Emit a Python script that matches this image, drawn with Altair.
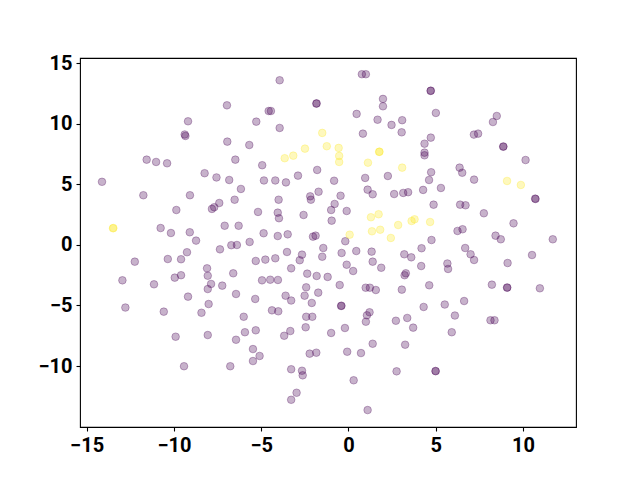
import altair as alt
import pandas as pd

purple_x = [-9.19, -9.38, -9.34, -11.56, -11.02, -10.39, -14.12, -8.24, -3.94, -6.96,
            -4.57, -4.44, -1.84, -1.82, -5.28, -3.94, -6.94, -5.68, -6.48, -4.94,
            -1.79, -2.89, -7.56, -6.83, -4.84, -4.19, -3.58, 0.77, 1.00, 4.71,
            4.72, 1.98, 1.98, 0.47, 5.01, 1.67, 3.08, 2.47, 3.05, 0.83,
            4.72, 4.36, 4.36, 4.36, 4.74, 4.62, 0.96, 2.26, -0.82, 8.50,
            8.28, 7.43, 7.19, 8.87, 8.88, 10.15, 6.37, 6.52, 7.20, -11.75,
            -9.08, -9.86, -10.76, -10.17, -9.09, -8.73, -9.25, -9.59, -10.35, -12.24,
            -9.59, -9.95, -12.95, -11.14, -9.19, -12.78, -6.16, -6.52, -7.40, -7.69,
            -7.82, -5.18, -4.00, -4.05, -3.98, -2.19, -2.15, -1.71, -2.57, -7.09,
            -6.29, -4.86, -4.05, -3.48, -2.03, -1.88, -5.66, -6.71, -6.39, -7.36,
            -3.52, -2.66, -2.79, -1.44, -1.50, -5.31, -4.76, -4.19, -8.10, -8.06,
            -3.28, -6.60, -2.36, -1.82, -1.19, -4.95, -4.48, -4.04, -7.87, -8.06,
            -7.23, -2.42, -1.73, -6.44, -5.34, -3.60, -3.28, -2.51, -2.10, -8.01,
            -0.45, 1.10, 1.39, 2.62, 3.14, 3.42, 4.28, 5.30, -0.79, -0.99,
            -0.10, -0.96, 4.88, -0.18, 4.76, 4.19, 0.45, 1.33, -0.39, 3.20,
            3.60, 1.39, -0.10, 1.88, 0.27, 4.17, 5.67, 5.71, 3.29, 3.22,
            -0.50, 4.63, 0.99, 1.23, 1.57, 3.06, 5.52, -0.42, -0.40, 4.31,
            10.72, 10.70, 6.40, 6.71, 7.76, 9.46, 6.25, 6.54, 8.43, 8.73,
            11.71, 6.69, 7.00, 7.20, 9.12, 10.52, 8.22, 9.09, 9.10, 10.97,
            6.63, -10.58, -8.42, -9.90, -9.42, -6.00, -4.38, -4.02, -2.42, -2.07,
            -2.45, -8.06, -6.44, -5.93, -5.31, -3.68, -3.33, -5.47, -5.09, -5.47,
            -6.77, -2.22, -1.84, -3.28, -2.66, -2.62, -2.97, -3.28, 1.21, 1.06,
            1.00, -0.99, -0.20, 2.72, 3.37, 6.10, 3.71, 5.92, -0.07, 0.72,
            1.39, 3.25, 2.76, 4.99, 5.00, 0.30, 1.10, 8.14, 8.37]
purple_y = [10.22, 9.13, 9.01, 7.05, 6.86, 6.75, 5.22, 5.93, 13.61, 11.54,
            11.07, 11.07, 11.68, 11.70, 10.19, 9.67, 8.54, 8.26, 7.05, 6.59,
            6.20, 5.73, 5.58, 5.37, 5.33, 5.33, 5.17, 14.11, 14.11, 12.73,
            12.75, 12.07, 11.46, 10.83, 10.91, 10.35, 10.31, 9.92, 9.31, 9.20,
            8.87, 8.37, 7.63, 7.41, 6.01, 5.37, 5.54, 5.70, 5.31, 10.66,
            10.16, 9.20, 9.12, 8.12, 8.14, 7.02, 6.39, 5.97, 5.40, 4.11,
            4.11, 2.89, 1.40, 0.99, 1.05, 0.36, -0.60, -1.18, -1.16, -1.38,
            -2.50, -2.70, -2.92, -3.25, -4.27, -5.17, 4.63, 3.74, 3.47, 3.12,
            2.98, 2.73, 3.74, 2.67, 2.21, 4.02, 3.74, 4.40, 2.48, 1.59,
            1.59, 0.97, 0.74, 0.88, 0.69, 0.77, 0.25, -0.02, 0.00, -0.36,
            -0.58, -0.80, -1.26, -0.25, -0.97, -1.32, -1.21, -1.10, -1.93, -2.54,
            -1.93, -2.34, -2.37, -2.56, -2.64, -2.92, -2.87, -2.89, -3.22, -3.64,
            -3.36, -3.50, -3.94, -4.05, -4.46, -4.19, -4.59, -4.19, -4.79, -4.88,
            4.07, 4.57, 4.19, 4.21, 4.30, 4.36, 4.55, 4.71, 3.39, 2.89,
            2.81, 2.01, 3.33, 0.31, 0.41, -0.27, -0.50, -0.55, -0.66, -0.77,
            -1.02, -1.38, -1.63, -1.88, -2.15, -1.74, -1.53, -1.98, -2.34, -2.50,
            -3.31, -3.33, -3.53, -3.53, -3.72, -3.69, -4.92, -5.04, -5.02, -5.12,
            3.80, 3.83, 3.33, 3.28, 2.62, 1.79, 1.16, 1.30, 0.77, 0.47,
            0.47, -0.25, -0.77, -1.24, -1.49, -0.83, -3.28, -3.53, -3.51, -3.58,
            -4.63, -5.51, -5.60, -7.58, -10.02, -5.93, -5.40, -5.48, -5.93, -5.93,
            -6.80, -7.44, -7.83, -7.21, -7.05, -7.50, -7.11, -8.60, -9.17, -9.59,
            -10.02, -8.98, -8.90, -10.27, -10.39, -10.77, -12.21, -12.79, -5.56, -5.81,
            -6.34, -7.27, -6.86, -6.26, -6.03, -5.83, -6.83, -7.21, -8.82, -8.93,
            -8.16, -8.24, -10.44, -10.41, -10.43, -11.18, -13.64, -6.22, -6.22]

yellow_x = [-1.50, -1.24, -2.49, -3.16, -3.65, -0.56, -0.53, -0.53, 1.76, 1.78,
            1.12, 3.08, 9.09, 9.88, -13.49, -13.47, 1.29, 1.73, 1.35, 1.82,
            2.85, 3.62, 3.79, 4.68, 2.43, 0.07]
yellow_y = [9.26, 8.16, 7.96, 7.38, 7.17, 8.02, 7.36, 6.86, 7.69, 7.71,
            6.80, 6.39, 5.29, 4.96, 1.38, 1.40, 2.29, 2.54, 1.13, 1.26,
            1.65, 1.98, 2.12, 1.90, 0.58, 0.85]

df = pd.DataFrame({
    "x": purple_x + yellow_x,
    "y": purple_y + yellow_y,
    "label": [0] * len(purple_x) + [1] * len(yellow_x),
})

cscale = alt.Scale(domain=[0, 1], range=["#440154", "#fde725"])

chart = alt.Chart(df).mark_point(
    filled=True, shape="circle", size=58, fillOpacity=0.3, strokeOpacity=0.3, strokeWidth=1
).encode(
    x=alt.X("x:Q", scale=alt.Scale(domain=[-15.38, 13.04], nice=False, zero=False),
            axis=alt.Axis(values=[-15, -10, -5, 0, 5, 10], title=None)),
    y=alt.Y("y:Q", scale=alt.Scale(domain=[-15.04, 15.45], nice=False, zero=False),
            axis=alt.Axis(values=[-10, -5, 0, 5, 10, 15], title=None)),
    color=alt.Color("label:O", scale=cscale, legend=None),
    stroke=alt.Stroke("label:O", scale=cscale, legend=None),
).properties(
    width=496, height=369,
    autosize=alt.AutoSizeParams(type="none"),
    padding={"left": 72, "top": 50, "right": 56, "bottom": 46},
).configure_view(
    stroke="black", strokeWidth=1.1
).configure_axis(
    grid=False, domain=False, tickColor="black", tickSize=4, tickWidth=1.1,
    labelFont="Roboto", labelFontSize=20, labelFontWeight="bold",
    labelColor="black", labelPadding=4,
)

chart.save("out.html", embed_options={"renderer": "svg", "actions": False})
